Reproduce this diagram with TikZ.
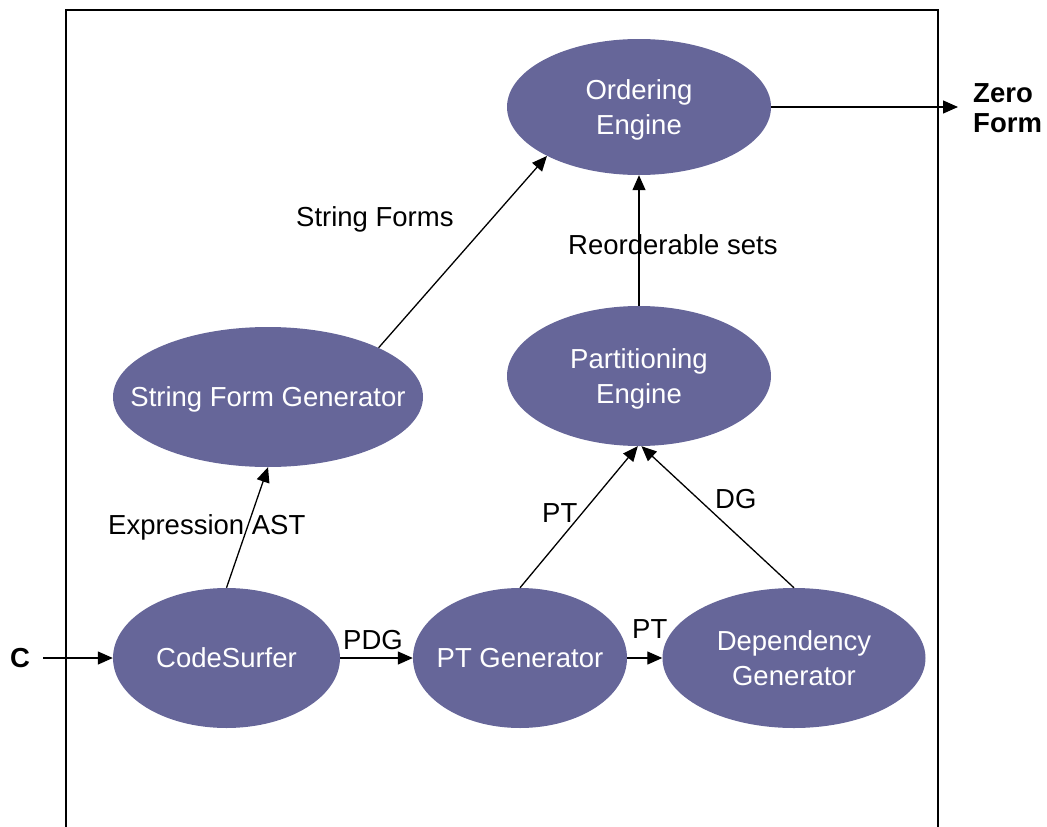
\documentclass[tikz,border=0pt]{standalone}
\usepackage{fontspec}
\setmainfont{Liberation Sans}
\usetikzlibrary{arrows.meta,shapes.geometric}
\definecolor{blobfill}{HTML}{666699}
\tikzset{
  blob/.style={ellipse, fill=blobfill, draw=none, inner sep=0pt},
  blobtext/.style={text=white, font=\fontsize{27.5}{35}\selectfont, align=center, text depth=0pt, inner sep=0pt},
  tag/.style={font=\fontsize{27.5}{33}\selectfont, inner sep=0pt, anchor=base west},
  boldtag/.style={font=\fontsize{27.5}{30}\selectfont\bfseries, inner sep=0pt, align=left},
  flow/.style={line width=1.3pt, -{Triangle[length=15pt,width=13pt]}},
  frame/.style={line width=1.3pt}
}
\begin{document}
\begin{tikzpicture}[x=1pt,y=-1pt]
  \useasboundingbox (0,0) rectangle (1047,827);
  % open frame around the tool chain
  \draw[frame] (66,827) -- (66,10) -- (938,10) -- (938,827);

  % processing stages
  \node[blob, minimum width=264pt, minimum height=136pt,
        label={[blobtext]center:Ordering\\Engine}] (oe) at (639,107) {};
  \node[blob, minimum width=264pt, minimum height=140pt,
        label={[blobtext]center:Partitioning\\Engine}] (pe) at (639,376) {};
  \node[blob, minimum width=310pt, minimum height=140pt,
        label={[blobtext]center:String Form Generator}] (sfg) at (268,397) {};
  \node[blob, minimum width=227pt, minimum height=140pt,
        label={[blobtext]center:CodeSurfer}] (cs) at (226.5,658) {};
  \node[blob, minimum width=214pt, minimum height=140pt,
        label={[blobtext]center:PT Generator}] (ptg) at (520,658) {};
  \node[blob, minimum width=263pt, minimum height=140pt,
        label={[blobtext]center:Dependency\\Generator}] (dg) at (794,658) {};

  % input and output ends
  \coordinate (cin) at (43,658);
  \coordinate (zout) at (958,107);
  \node[boldtag, anchor=base west] (c) at (10,667) {C};
  \node[boldtag, anchor=west] (zf) at (973,108) {Zero\\Form};

  % connectors
  \draw[flow] (cin) -- (cs.west);
  \draw[flow] (cs.east) -- (ptg.west);
  \draw[flow] (ptg.east) -- (dg.west);
  \draw[flow] (cs.north) -- (sfg.south);
  \draw[flow] (sfg.24) -- (oe.208.5);
  \draw[flow] (ptg.north) -- (pe.269);
  \draw[flow] (dg.north) -- (pe.272);
  \draw[flow] (pe.north) -- (oe.south);
  \draw[flow] (oe.east) -- (zout);

  % connector labels
  \node[tag] (lsf) at (296,226) {String Forms};
  \node[tag] (lrs) at (568,254) {Reorderable sets};
  \node[tag] (last) at (108,534) {Expression AST};
  \node[tag] (lpt1) at (542,522) {PT};
  \node[tag] (ldg) at (715,508) {DG};
  \node[tag] (lpdg) at (343,649) {PDG};
  \node[tag] (lpt2) at (632,638) {PT};
\end{tikzpicture}
\end{document}
